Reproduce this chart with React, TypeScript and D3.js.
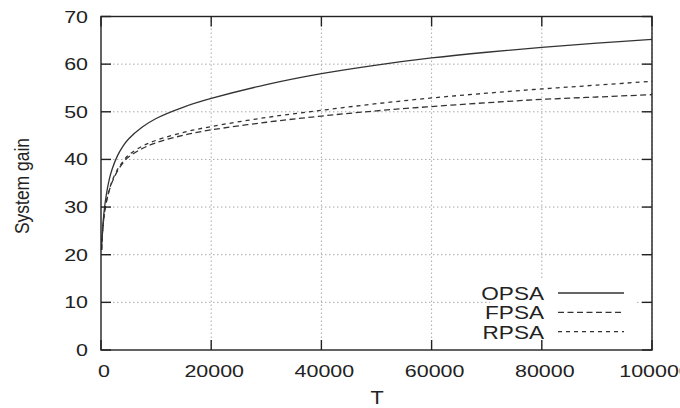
import React from "react";
import * as d3 from "d3";

// values
const T = [100, 300, 600, 1000, 1500, 2000, 3000, 4000, 5000, 7500, 10000, 15000, 20000, 30000, 40000, 50000, 60000, 70000, 80000, 90000, 100000];
const opsa = [21, 25.5, 29.5, 32.8, 35.8, 37.9, 40.8, 42.8, 44.3, 46.8, 48.6, 51.0, 52.8, 55.7, 58.0, 59.8, 61.3, 62.5, 63.5, 64.4, 65.2];
const fpsa = [21, 25, 28.5, 31.2, 33.5, 35.2, 37.6, 39.3, 40.5, 42.3, 43.5, 45.1, 46.2, 47.8, 49.1, 50.2, 51.1, 51.9, 52.6, 53.1, 53.6];
const rpsa = [21, 25, 28.6, 31.3, 33.6, 35.4, 37.9, 39.6, 40.9, 42.8, 44.0, 45.7, 46.9, 48.8, 50.3, 51.7, 52.9, 53.9, 54.8, 55.6, 56.4];

const xTicks = [0, 20000, 40000, 60000, 80000, 100000];
const yTicks = [0, 10, 20, 30, 40, 50, 60, 70];
const seriesNames = ["OPSA", "FPSA", "RPSA"];

const W = 680;
const H = 408;
const margin = { top: 16.5, right: 28, bottom: 58, left: 101 };

const dashes = [null, "6,3.5", "4,4"];
const ink = "#222";
const fontFamily = "'Liberation Sans', Arial, sans-serif";

export default function App() {
  const x = d3.scaleLinear().domain([0, 100000]).range([margin.left, W - margin.right]);
  const y = d3.scaleLinear().domain([0, 70]).range([H - margin.bottom, margin.top]);

  const series = [opsa, fpsa, rpsa];
  const line = d3.line<number>()
    .x((_, i) => x(T[i]))
    .y((d) => y(d))
    .curve(d3.curveCatmullRom.alpha(0.5));

  const x0 = x(0), x1 = x(100000), y0 = y(0), y1 = y(70);
  const tickLen = 10;

  return (
    <svg width={W} height={H} style={{ position: "absolute", left: 0, top: 0, background: "#fff" }}>
      {/* grid */}
      <g stroke="#aaa" strokeWidth={1} strokeDasharray="1.5,2.5">
        {yTicks.slice(1).map((t) => (
          <line key={"gy" + t} x1={x0} x2={x1} y1={y(t)} y2={y(t)} />
        ))}
        {xTicks.slice(1).map((t) => (
          <line key={"gx" + t} x1={x(t)} x2={x(t)} y1={y0} y2={y1} />
        ))}
      </g>

      {/* legend box (opaque, no border) */}
      <rect x={490} y={280} width={146} height={61} fill="#fff" />

      {/* curves */}
      <g fill="none" stroke="#333" strokeWidth={1.3}>
        {series.map((s, i) => (
          <path key={seriesNames[i]} d={line(s) || ""} strokeDasharray={dashes[i] || undefined} />
        ))}
      </g>

      {/* frame and ticks */}
      <rect x={x0} y={y1} width={x1 - x0} height={y0 - y1} fill="none" stroke={ink} strokeWidth={1.4} />
      <g stroke={ink} strokeWidth={1.4}>
        {yTicks.map((t) => (
          <g key={"ty" + t}>
            <line x1={x0} x2={x0 + tickLen} y1={y(t)} y2={y(t)} />
            <line x1={x1} x2={x1 - tickLen} y1={y(t)} y2={y(t)} />
          </g>
        ))}
        {xTicks.map((t) => (
          <g key={"tx" + t}>
            <line x1={x(t)} x2={x(t)} y1={y0} y2={y0 - tickLen} />
            <line x1={x(t)} x2={x(t)} y1={y1} y2={y1 + tickLen} />
          </g>
        ))}
      </g>

      {/* tick labels */}
      <g fill={ink} fontFamily={fontFamily} fontSize={16.5}>
        {yTicks.map((t) => (
          <text key={"ly" + t} transform={`translate(88,${y(t) + 6}) scale(1.3,1)`} textAnchor="end">
            {t}
          </text>
        ))}
        {xTicks.map((t) => (
          <text key={"lx" + t} transform={`translate(${x(t) + 3},376.5) scale(1.3,1)`} textAnchor="middle">
            {t}
          </text>
        ))}
      </g>

      {/* axis titles */}
      <text transform="translate(377,404) scale(1.2,1)" textAnchor="middle" fill={ink} fontFamily={fontFamily} fontSize={18}>
        T
      </text>
      <text transform="translate(29,186) scale(1.2,1) rotate(-90)" textAnchor="middle" fill={ink} fontFamily={fontFamily} fontSize={17.5}>
        System gain
      </text>

      {/* legend */}
      {seriesNames.map((n, i) => {
        const ly = 293 + i * 19.3;
        return (
          <g key={"lg" + n}>
            <text transform={`translate(544,${ly + 7}) scale(1.22,1)`} textAnchor="end" fill={ink} fontFamily={fontFamily} fontSize={18.5}>
              {n}
            </text>
            <line x1={558} x2={624} y1={ly} y2={ly} stroke="#333" strokeWidth={1.3} strokeDasharray={dashes[i] || undefined} />
          </g>
        );
      })}
    </svg>
  );
}
